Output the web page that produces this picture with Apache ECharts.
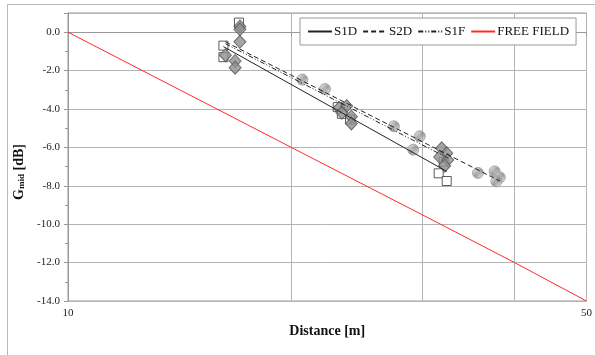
<!DOCTYPE html>
<html><head><meta charset="utf-8">
<script src="https://cdn.jsdelivr.net/npm/echarts@6/dist/echarts.min.js"></script>
<style>html,body{margin:0;padding:0;background:#fff}#c{width:595px;height:355px}</style>
</head><body><div id="c"></div>
<script>
// ---- data (distance in m, G in dB) ----
const squareX = [17.0, 16.2, 16.2, 23.1, 23.4, 24.0, 31.6, 32.4, 32.1];
const squareY = [0.5, -0.7, -1.3, -3.9, -4.25, -4.55, -7.35, -7.75, -6.75];
const diamondX = [17.05, 17.05, 17.05, 16.3, 16.8, 16.8, 23.2, 23.75, 23.4, 24.1, 24.1, 31.9, 32.4, 31.7, 32.5, 32.2];
const diamondY = [0.3, 0.15, -0.5, -1.2, -1.5, -1.85, -3.95, -3.85, -4.2, -4.4, -4.75, -6.05, -6.3, -6.5, -6.65, -6.95];
const circleX = [20.7, 22.2, 27.5, 29.8, 29.2, 35.7, 37.6, 38.2, 37.8];
const circleY = [-2.47, -2.96, -4.90, -5.42, -6.12, -7.33, -7.25, -7.56, -7.77];
const s1dX = [16.2, 32.4];   const s1dY = [-0.75, -7.25];
const s2dX = [16.3, 38.2];   const s2dY = [-0.5, -7.75];
const s1fX = [16.3, 32.5];   const s1fY = [-0.6, -6.55];
const freeX = [10, 20, 30, 40, 50];
const freeY = [0.0, -6.0, -9.5, -12.0, -14.0];
const xTickValues = [10, 20, 30, 40, 50];
const xLabelValues = [10, 50];
const legendNames = ['S1D', 'S2D', 'S1F', 'FREE FIELD'];

const pair = (xs, ys) => xs.map((x, i) => [x, ys[i]]);
const FONT = "'Liberation Serif','Times New Roman',serif";

const pc = document.createElement('canvas');
pc.width = 4; pc.height = 4;
const cx = pc.getContext('2d');
cx.fillStyle = '#e0e0e0'; cx.fillRect(0, 0, 4, 4);
cx.strokeStyle = '#7a7a7a'; cx.lineWidth = 1.1;
cx.beginPath(); cx.moveTo(-1, 5); cx.lineTo(5, -1); cx.stroke();
cx.beginPath(); cx.moveTo(-1, 1); cx.lineTo(1, -1); cx.stroke();
cx.beginPath(); cx.moveTo(3, 5); cx.lineTo(5, 3); cx.stroke();
const hatch = { image: pc, repeat: 'repeat' };

const chart = echarts.init(document.getElementById('c'), null, { renderer: 'canvas' });
chart.setOption({
  animation: false,
  backgroundColor: '#fff',
  graphic: [{
    type: 'rect', shape: { x: 7.5, y: 4.5, width: 700, height: 400 },
    style: { fill: 'none', stroke: '#b8b8b8', lineWidth: 1 }, z: -10, silent: true
  }],
  grid: { left: 68, right: 6, top: 13, bottom: 54, show: true, borderColor: '#999', borderWidth: 1 },
  legend: {
    data: legendNames, left: 300, top: 18, width: 290, orient: 'horizontal',
    backgroundColor: '#fff', borderColor: '#999', borderWidth: 1,
    padding: [7, 7], itemWidth: 24, itemHeight: 10, itemGap: 5,
    itemStyle: { opacity: 0 },
    textStyle: { fontFamily: FONT, fontSize: 13, color: '#111', padding: [0, 0, 0, -3] }
  },
  xAxis: {
    type: 'log', logBase: 10, min: 10, max: 50,
    name: 'Distance [m]', nameLocation: 'middle', nameGap: 20,
    nameTextStyle: { fontFamily: FONT, fontWeight: 'bold', fontSize: 14, color: '#111' },
    axisLine: { lineStyle: { color: '#999' } },
    axisTick: { show: true, length: 4, customValues: xTickValues, lineStyle: { color: '#999' } },
    axisLabel: { customValues: xLabelValues, fontFamily: FONT, fontSize: 11, color: '#222', margin: 7,
      formatter: v => String(Math.round(v)) },
    splitLine: { show: true, lineStyle: { color: '#b4b4b4', width: 1 } },
    minorTick: { show: false }, minorSplitLine: { show: false }
  },
  yAxis: {
    type: 'value', min: -14, max: 1, interval: 2,
    name: '{a|G}{b|mid}{a| [dB]}', nameLocation: 'middle', nameGap: 40, nameRotate: 90,
    nameTextStyle: {
      padding: [0, 30, 0, 0],
      rich: {
        a: { fontFamily: FONT, fontWeight: 'bold', fontSize: 14, color: '#111', lineHeight: 16, verticalAlign: 'bottom' },
        b: { fontFamily: FONT, fontWeight: 'bold', fontSize: 9, color: '#111', lineHeight: 8, verticalAlign: 'bottom' }
      }
    },
    axisLine: { show: true, lineStyle: { color: '#999' } },
    axisTick: { show: true, length: 4, lineStyle: { color: '#999' } },
    minorTick: { show: true, splitNumber: 2, length: 3, lineStyle: { color: '#999' } },
    axisLabel: { fontFamily: FONT, fontSize: 11, color: '#222', margin: 8,
      formatter: v => (v > 0.5 ? '' : v.toFixed(1)) },
    splitLine: { show: true, lineStyle: { color: '#b4b4b4', width: 1 } }
  },
  series: [
    { name: 'FREE FIELD', type: 'line', data: pair(freeX, freeY), symbol: 'none',
      lineStyle: { color: '#ff2a2a', width: 1 }, itemStyle: { color: '#ff2a2a' }, z: 3 },
    { name: 'S2D pts', type: 'scatter', data: pair(circleX, circleY), symbol: 'circle', symbolSize: 11,
      itemStyle: { color: hatch, borderColor: '#9a9a9a', borderWidth: 1 }, z: 4 },
    { name: 'S1D pts', type: 'scatter', data: pair(squareX, squareY), symbol: 'rect', symbolSize: 9,
      itemStyle: { color: '#fff', borderColor: '#333', borderWidth: 1 }, z: 5 },
    { name: 'S1F pts', type: 'scatter', data: pair(diamondX, diamondY), symbol: 'diamond', symbolSize: [12, 13],
      itemStyle: { color: '#8e8e8e', borderColor: '#555', borderWidth: 1 }, z: 6 },
    { name: 'S1D', type: 'line', data: pair(s1dX, s1dY), symbol: 'none',
      lineStyle: { color: '#222', width: 1, type: 'solid' }, itemStyle: { color: '#222' }, z: 8 },
    { name: 'S2D', type: 'line', data: pair(s2dX, s2dY), symbol: 'none',
      lineStyle: { color: '#222', width: 1, type: [5, 3] }, itemStyle: { color: '#222' }, z: 8 },
    { name: 'S1F', type: 'line', data: pair(s1fX, s1fY), symbol: 'none',
      lineStyle: { color: '#222', width: 1, type: [5, 2, 1, 2, 1, 2] }, itemStyle: { color: '#222' }, z: 8 }
  ]
});
</script></body></html>
